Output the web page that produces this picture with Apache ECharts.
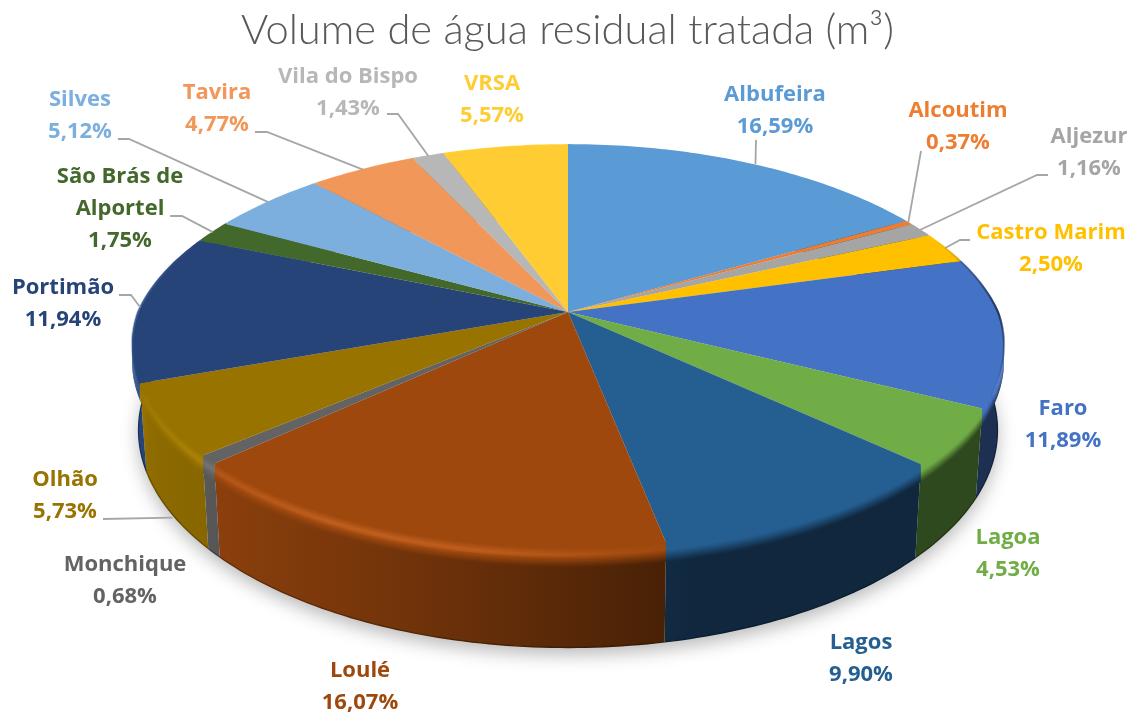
<!DOCTYPE html>
<html><head><meta charset="utf-8">
<style>html,body{margin:0;padding:0;background:#fff}#c{width:1135px;height:718px}</style>
<script src="https://cdn.jsdelivr.net/npm/echarts@6/dist/echarts.min.js"></script>
</head><body><div id="c"></div>
<script>
const names = ['Albufeira','Alcoutim','Aljezur','Castro Marim','Faro','Lagoa','Lagos','Loulé','Monchique','Olhão','Portimão','São Brás de\nAlportel','Silves','Tavira','Vila do Bispo','VRSA'];
const shares = [16.59,0.37,1.16,2.50,11.89,4.53,9.90,16.07,0.68,5.73,11.94,1.75,5.12,4.77,1.43,5.57];
const colors = ['#5b9bd5','#ed7d31','#a5a5a5','#ffc000','#4472c4','#70ad47','#255e91','#9e480e','#636363','#997300','#264478','#43682b','#7cafdd','#f1975a','#b7b7b7','#ffcd33'];
const labelCentres = [[775,111],[958,127],[1089,153],[1051,249],[1063,425],[1008,554],[861,659],[360,687],[125,581],[65,496],[63,304],[120,209],[80,116],[217,109],[348,93],[492,100]];
// leader start + elbow; the far end is the slice's rim midpoint (null = no leader)
const leaders = [[[756,140]],[[921,151]],[[1048,175],[1037,175]],[[970,240],[960,240]],null,null,null,null,null,[[103,519]],[[119,295],[131,295]],[[170,216],[182,216]],[[118,139],[129,139]],[[255,132],[267,132]],[[387,114],[398,114]],null];

// perspective disc
const CX=568, CY=312, RX=430, RY=195.6, K=0.171, KXB=0.2, KXF=0.165, DEPTH=82.5, SHRINK=0.985, BEVEL=15;
function topPt(deg,dy){
  const t=deg*Math.PI/180,u=Math.sin(t),v=Math.cos(t),w=1+K*v,wx=1+(v>0?KXB:KXF)*v;
  return [CX+RX*u/wx, CY-RY*v/w+(dy||0)/w];
}
function botPt(deg){
  const t=deg*Math.PI/180,u=Math.sin(t),v=Math.cos(t),w=1+K*v,wx=1+(v>0?KXB:KXF)*v;
  return [CX+RX*SHRINK*u/wx, CY-RY*v/w+DEPTH/w];
}
const edges=[0]; shares.forEach(s=>edges.push(edges[edges.length-1]+s));
const total=edges[edges.length-1];
const ang=i=>edges[i]/total*360;
function arc(fn,a,b){const n=Math.max(2,Math.ceil(Math.abs(b-a)));const r=[];for(let i=0;i<=n;i++)r.push(fn(a+(b-a)*i/n));return r;}

function interp(tb,x){
  if(x<=tb[0][0])return tb[0][1];
  for(let i=1;i<tb.length;i++)if(x<=tb[i][0]){const p=tb[i-1],q=tb[i];return p[1]+(q[1]-p[1])*(x-p[0])/(q[0]-p[0]);}
  return tb[tb.length-1][1];
}
const sideTb=[[132,1.08],[150,0.93],[215,0.88],[400,0.72],[666,0.46],[680,0.42],[1003,0.42]];
const hlTb=[[132,0.02],[200,0.08],[350,0.15],[500,0.13],[620,0.04],[680,0]];
function hex(c){return [1,3,5].map(i=>parseInt(c.substr(i,2),16));}
function shade(c,f,al){
  const a=hex(c).map(v=>Math.max(0,Math.min(255,Math.round(f>1?v*f+255*(f-1)*0.4:v*f))));
  return 'rgba('+a.join(',')+','+(al===undefined?1:al)+')';
}
function grad(c,pts,ff){
  let x0=Infinity,x1=-Infinity;pts.forEach(p=>{x0=Math.min(x0,p[0]);x1=Math.max(x1,p[0]);});
  if(x1-x0<1)x1=x0+1;
  const stops=[];const n=8;
  for(let i=0;i<=n;i++){stops.push({offset:i/n,color:shade(c,ff(x0+(x1-x0)*i/n))});}
  return new echarts.graphic.LinearGradient(x0,0,x1,0,stops,true);
}
function bevelF(x,s){
  const hl=interp(hlTb,x),sd=interp(sideTb,x);
  return s<0.4?1+hl*s/0.4:(1+hl)+(sd-(1+hl))*(s-0.4)/0.6;
}

function renderShadow(p,api){
  if(p.dataIndex!==0)return {type:'group',children:[]};
  return {type:'polygon',silent:true,shape:{points:arc(botPt,0,360)},
    style:{fill:'#e6e6e6',shadowBlur:18,shadowOffsetY:7,shadowColor:'rgba(0,0,0,0.28)'}};
}
function renderSide(p,api){
  const i=p.dataIndex,a=ang(i),b=ang(i+1),c=colors[i];
  const pts=arc(d=>topPt(d,2),a,b).concat(arc(botPt,b,a));
  const low=arc(botPt,a,b);
  return {type:'group',children:[
    {type:'polygon',silent:true,shape:{points:pts},style:{fill:grad(c,pts,x=>interp(sideTb,x))}},
    {type:'polyline',silent:true,shape:{points:low},style:{fill:'none',lineWidth:1.4,stroke:grad(c,low,x=>interp(sideTb,x)*0.72)}}
  ]};
}
function renderBevel(p,api){
  const i=p.dataIndex,a=ang(i),b=ang(i+1),c=colors[i],ch=[];
  const N=10;
  for(let j=N-1;j>=0;j--){
    const d0=-1+(BEVEL+1)*j/N,d1=-1+(BEVEL+1)*(j+1)/N+0.8,s=(j+0.5)/N;
    const pts=arc(d=>topPt(d,d0),a,b).concat(arc(d=>topPt(d,d1),b,a));
    ch.push({type:'polygon',silent:true,shape:{points:pts},style:{fill:grad(c,pts,x=>bevelF(x,s))}});
  }
  return {type:'group',children:ch};
}
function renderTop(p,api){
  const i=p.dataIndex,a=ang(i),b=ang(i+1);
  const pts=[[CX,CY]].concat(arc(d=>topPt(d,0),a,b));
  return {type:'polygon',silent:true,shape:{points:pts},style:{fill:colors[i]}};
}
// thin shaded edge where the disc's rim runs steeply at its far left and right
function renderRim(p,api){
  const i=p.dataIndex,a=ang(i),b=ang(i+1),c=colors[i];
  const pts=arc(d=>topPt(d,0),a,b);
  const right=(a+b)/2<180, f=right?0.4:1.2;
  const y0=CY-70,y1=CY+70;
  return {type:'polyline',silent:true,shape:{points:pts},style:{fill:'none',lineWidth:2.2,
    stroke:new echarts.graphic.LinearGradient(0,y0,0,y1,[
      {offset:0,color:shade(c,f,0)},{offset:0.5,color:shade(c,f,right?0.9:0.7)},{offset:1,color:shade(c,f,0)}],true)}};
}
function renderLabel(p,api){
  const i=p.dataIndex,ch=[],val=api.value(0);
  const txt=names[i]+'\n'+val.toFixed(2).replace('.',',')+'%';
  ch.push({type:'text',silent:true,style:{text:txt,x:labelCentres[i][0],y:labelCentres[i][1],align:'center',verticalAlign:'middle',
    fill:colors[i],font:'bold 22px "Open Sans"',lineHeight:32}});
  if(leaders[i]){
    const mid=(ang(i)+ang(i+1))/2;
    const end=names[i]==='Olhão'?[botPt(mid)[0]+3,botPt(mid)[1]+7]:topPt(mid,0);
    if(names[i]==='Albufeira')end[0]+=5;
    ch.push({type:'polyline',silent:true,shape:{points:leaders[i].concat([end])},style:{stroke:'#a6a6a6',lineWidth:1.8,fill:'none'}});
  }
  return {type:'group',children:ch};
}
const data=shares.map((v,i)=>({name:names[i],value:[v]}));
const layer=(r,z)=>({type:'custom',coordinateSystem:'none',renderItem:r,data:data,z:z,animation:false,silent:true});
const chart=echarts.init(document.getElementById('c'),null,{renderer:'canvas'});
chart.setOption({
  animation:false,backgroundColor:'#fff',
  title:{text:'Volume de água residual tratada (m³)',left:562.5,top:5,textAlign:'center',
    textStyle:{color:'#595959',fontFamily:'Lato',fontWeight:300,fontSize:41.7}},
  series:[layer(renderShadow,1),layer(renderSide,2),layer(renderBevel,3),layer(renderTop,4),layer(renderRim,5),layer(renderLabel,6)]
});
</script></body></html>
